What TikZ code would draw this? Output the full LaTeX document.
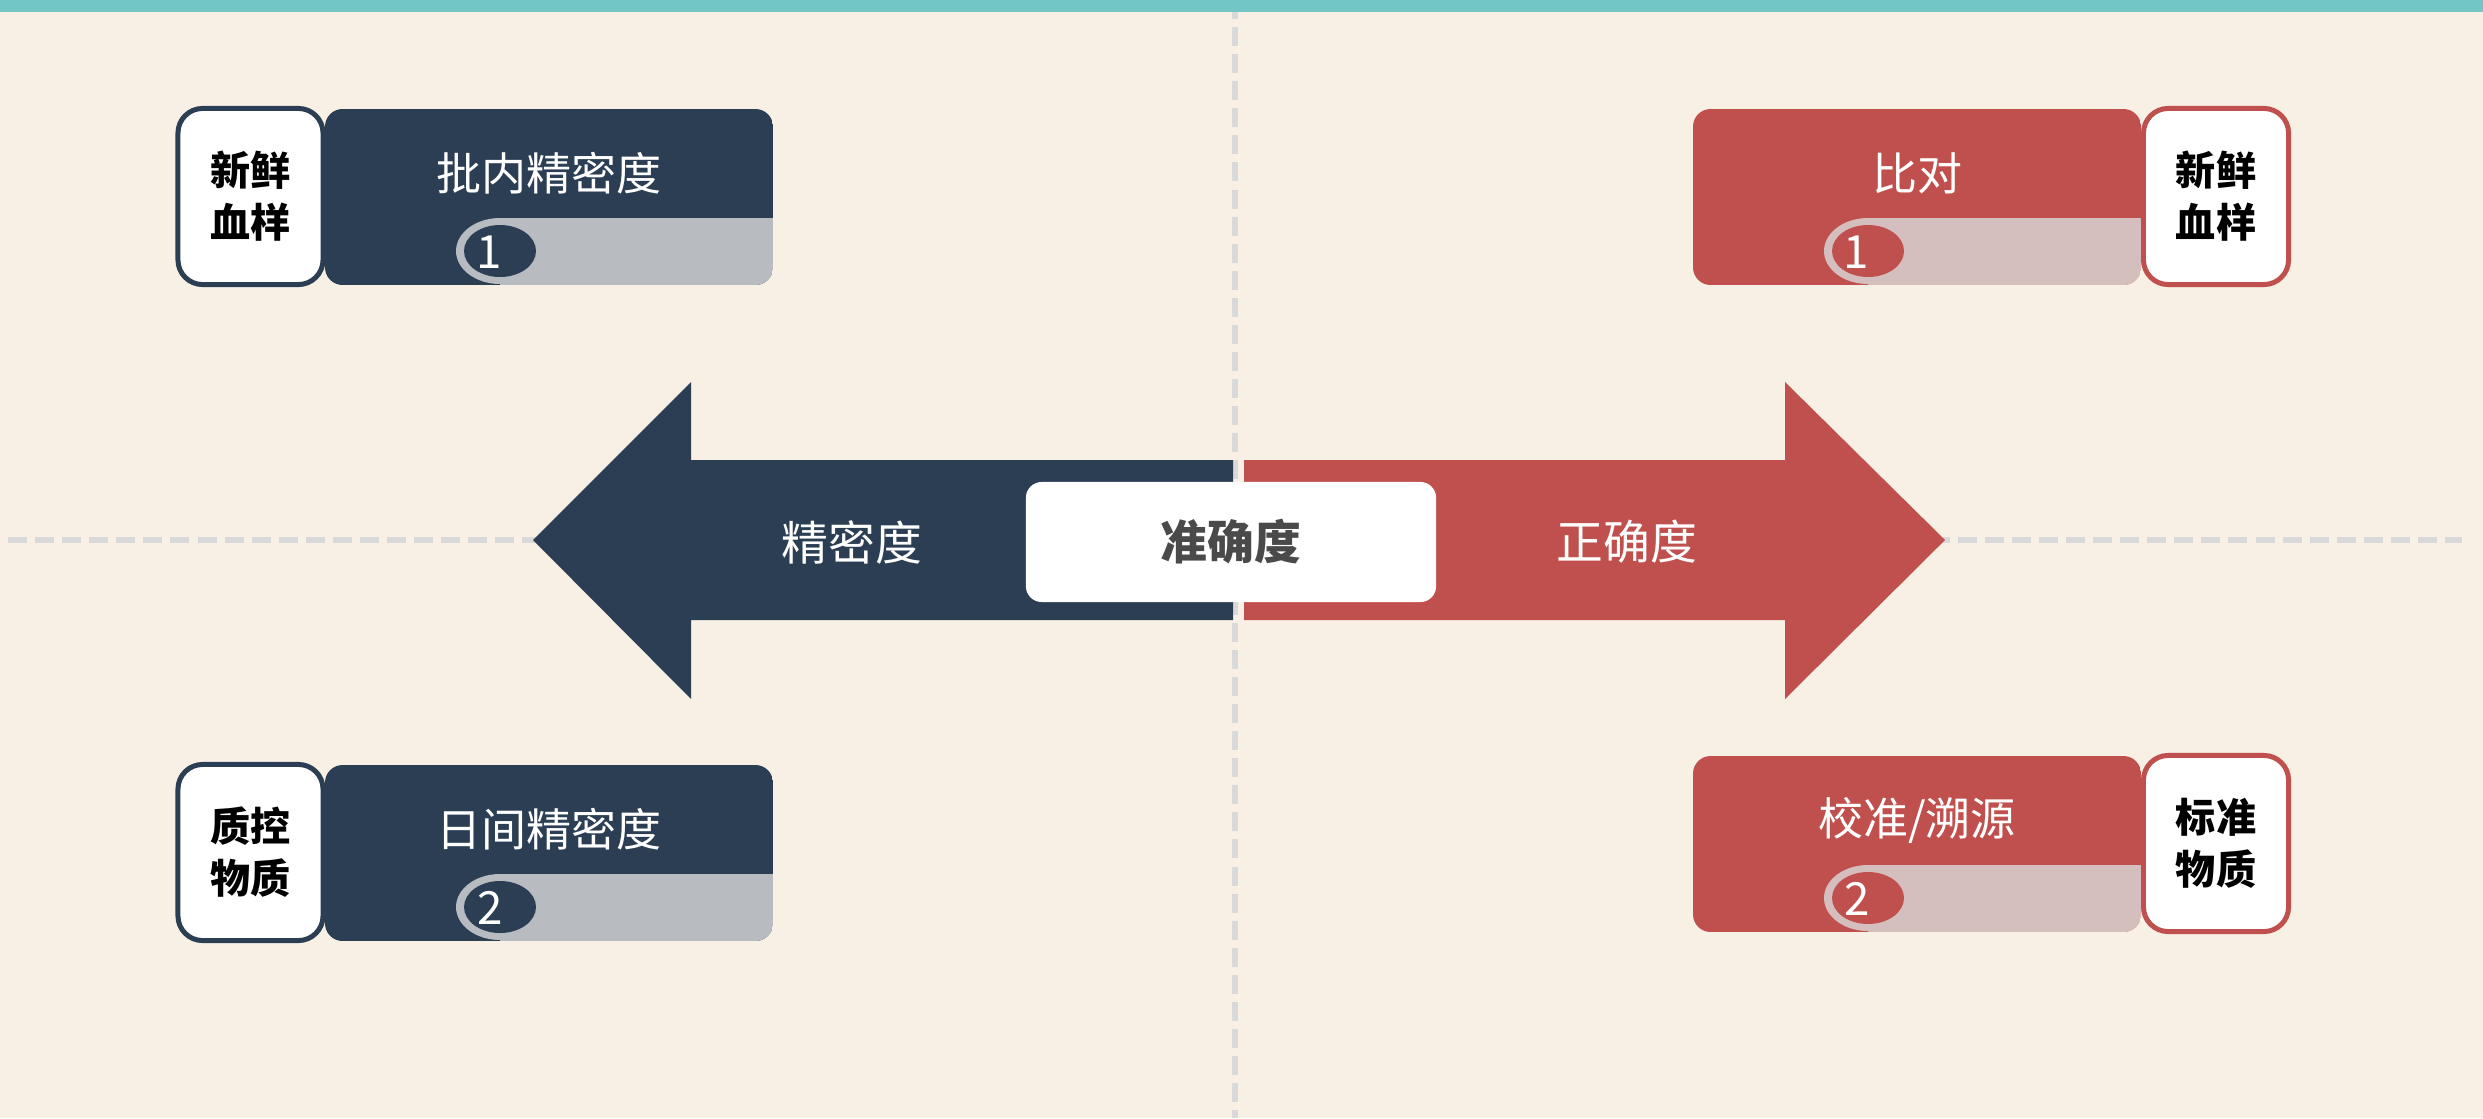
\documentclass[tikz,border=0pt]{standalone}
\usepackage{fontspec}
\setmainfont{Noto Sans CJK SC}
\definecolor{bgc}{HTML}{F8F0E5}
\definecolor{navyc}{HTML}{2C3E53}
\definecolor{redc}{HTML}{C0504D}
\definecolor{graystripc}{HTML}{B8BBC0}
\definecolor{pinkstripc}{HTML}{D5BFBE}
\definecolor{tealc}{HTML}{72C6C6}
\definecolor{dashc}{HTML}{D9D9D9}
\definecolor{acctext}{HTML}{4A4A4A}
\begin{document}
\begin{tikzpicture}[x=0.01cm,y=-0.01cm,
  dashline/.style={draw=dashc,line width=1.7pt,dash pattern=on 5.4pt off 2.3pt},
  titletxt/.style={text=white,font=\fontsize{12.8pt}{15pt}\selectfont,inner sep=0pt},
  numtxt/.style={text=white,font=\fontsize{13pt}{15pt}\selectfont,inner sep=0pt},
  sidebox/.style={draw=#1,fill=white,line width=1.42pt,rounded corners=7pt,
    minimum width=1.45cm,minimum height=1.76cm,align=center,inner sep=0pt,
    font=\bfseries\fontsize{11.4pt}{14.8pt}\selectfont,text=black},
  arrowtxt/.style={text=white,font=\fontsize{13.3pt}{16pt}\selectfont,inner sep=0pt},
  accbox/.style={fill=white,rounded corners=4.5pt,minimum width=4.1cm,minimum height=1.2cm,
    inner sep=0pt,text=acctext,font=\bfseries\fontsize{13.3pt}{16pt}\selectfont}
]
\useasboundingbox (0,0) rectangle (2483,1118);
\fill[bgc] (0,0) rectangle (2483,1118);
% dashed guide lines
\draw[dashline] (1235,0) -- (1235,1118);
\draw[dashline] (8,540) -- (2462,540);
% arrows
\fill[navyc] (1233,460) -- (691,460) -- (691,382) -- (533,540) -- (691,699) -- (691,620) -- (1233,620) -- cycle;
\fill[redc] (1244,460) -- (1785,460) -- (1785,382) -- (1945,540) -- (1785,699) -- (1785,620) -- (1244,620) -- cycle;
\node[accbox] (acc) at (1231,542) {准确度};
\node[arrowtxt] (prec) at (852,542) {精密度};
\node[arrowtxt] (true) at (1627,542) {正确度};
% top-left card
\begin{scope}
\clip[rounded corners=5pt] (325,109) rectangle (773,285);
\fill[navyc] (325,109) rectangle (773,285);
\fill[graystripc] (500,218) rectangle (773,285);
\fill[graystripc] (500,251) ellipse [x radius=44, y radius=33];
\fill[navyc] (500,251) ellipse [x radius=36, y radius=26];
\end{scope}
\node[numtxt] (nTL) at (489,252) {1};
\node[titletxt] (tTL) at (549,173) {批内精密度};
\node[sidebox=navyc] (sTL) at (250.5,196.5) {新鲜\\血样};
% bottom-left card
\begin{scope}
\clip[rounded corners=5pt] (325,765) rectangle (773,941);
\fill[navyc] (325,765) rectangle (773,941);
\fill[graystripc] (500,874) rectangle (773,941);
\fill[graystripc] (500,907) ellipse [x radius=44, y radius=33];
\fill[navyc] (500,907) ellipse [x radius=36, y radius=26];
\end{scope}
\node[numtxt] (nBL) at (490,908) {2};
\node[titletxt] (tBL) at (549,829) {日间精密度};
\node[sidebox=navyc] (sBL) at (250.5,852.5) {质控\\物质};
% top-right card
\begin{scope}
\clip[rounded corners=5pt] (1693,109) rectangle (2141,285);
\fill[redc] (1693,109) rectangle (2141,285);
\fill[pinkstripc] (1868,218) rectangle (2141,285);
\fill[pinkstripc] (1868,251) ellipse [x radius=44, y radius=33];
\fill[redc] (1868,251) ellipse [x radius=36, y radius=26];
\end{scope}
\node[numtxt] (nTR) at (1856,252) {1};
\node[titletxt] (tTR) at (1917,173) {比对};
\node[sidebox=redc] (sTR) at (2216,196.5) {新鲜\\血样};
% bottom-right card
\begin{scope}
\clip[rounded corners=5pt] (1693,756) rectangle (2141,932);
\fill[redc] (1693,756) rectangle (2141,932);
\fill[pinkstripc] (1868,865) rectangle (2141,932);
\fill[pinkstripc] (1868,898) ellipse [x radius=44, y radius=33];
\fill[redc] (1868,898) ellipse [x radius=36, y radius=26];
\end{scope}
\node[numtxt] (nBR) at (1857,899) {2};
\node[titletxt] (tBR) at (1917,820) {校准/溯源};
\node[sidebox=redc] (sBR) at (2216,843.5) {标准\\物质};
% top bar
\fill[tealc] (0,0) rectangle (2483,12);
\end{tikzpicture}
\end{document}
